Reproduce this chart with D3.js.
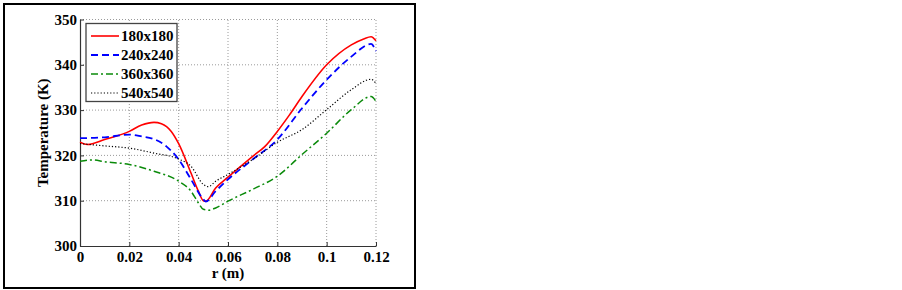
<!DOCTYPE html>
<html>
<head>
<meta charset="utf-8">
<script src="https://cdn.jsdelivr.net/npm/d3@7"></script>
<style>
  body { margin: 0; background: #fff; }
  svg { display: block; }
</style>
</head>
<body>
<div id="chart"></div>
<script>
// data
var rValues = [0, 0.003, 0.01, 0.02, 0.025, 0.03, 0.033, 0.037, 0.04, 0.045, 0.048, 0.05, 0.051, 0.055, 0.06, 0.07, 0.075, 0.08, 0.085, 0.09, 0.1, 0.11, 0.115, 0.118, 0.12];
var t180 = [322.9, 322.4, 323.5, 325.3, 326.7, 327.3, 327.0, 325.3, 322.6, 316.1, 312.1, 310.0, 309.9, 312.8, 315.2, 319.8, 322.0, 325.3, 329.0, 333.0, 340.0, 344.4, 345.7, 346.2, 345.3];

var rBlue = [0, 0.01, 0.02, 0.025, 0.03, 0.035, 0.04, 0.045, 0.05, 0.051, 0.055, 0.06, 0.07, 0.08, 0.09, 0.1, 0.11, 0.118, 0.12];
var t240 = [323.8, 324.0, 324.6, 324.2, 323.6, 322.0, 319.1, 314.7, 310.3, 309.8, 312.1, 314.7, 319.1, 323.5, 330.4, 336.7, 341.8, 344.6, 343.0];

var rGreen = [0, 0.005, 0.01, 0.02, 0.03, 0.04, 0.045, 0.048, 0.05, 0.052, 0.055, 0.06, 0.07, 0.08, 0.09, 0.1, 0.11, 0.118, 0.12];
var t360 = [318.7, 319.0, 318.6, 318.0, 316.5, 314.3, 312.1, 309.5, 308.1, 307.9, 308.4, 309.9, 312.5, 315.4, 320.2, 324.9, 330.1, 333.0, 331.9];

var rBlack = [0, 0.01, 0.02, 0.03, 0.04, 0.045, 0.05, 0.052, 0.055, 0.06, 0.07, 0.08, 0.09, 0.1, 0.11, 0.118, 0.12];
var t540 = [322.6, 322.1, 321.6, 320.5, 319.2, 317.6, 313.6, 313.1, 314.3, 315.8, 319.1, 322.9, 325.7, 330.1, 334.5, 336.8, 335.9];

var seriesNames = ["180x180", "240x240", "360x360", "540x540"];
var xTicks = [0, 0.02, 0.04, 0.06, 0.08, 0.1, 0.12];
var xTickLabels = ["0", "0.02", "0.04", "0.06", "0.08", "0.1", "0.12"];
var yTicks = [300, 310, 320, 330, 340, 350];

var fontFamily = "'Liberation Serif', 'Times New Roman', serif";

var series = [
  {name: seriesNames[0], r: rValues, t: t180, color: "#ff0000", dash: null, width: 1.6},
  {name: seriesNames[1], r: rBlue, t: t240, color: "#0000ff", dash: "7,4", width: 1.8},
  {name: seriesNames[2], r: rGreen, t: t360, color: "#0a8a0a", dash: "7,3,2,3", width: 1.5},
  {name: seriesNames[3], r: rBlack, t: t540, color: "#000000", dash: "1.2,2", width: 1.2}
];

var svg = d3.select("#chart")
  .append("svg")
    .attr("width", 902)
    .attr("height", 290);

// outer frame
svg.append("rect")
  .attr("x", 4).attr("y", 4)
  .attr("width", 411).attr("height", 284)
  .attr("fill", "none")
  .attr("stroke", "#000")
  .attr("stroke-width", 2);

var x = d3.scaleLinear().domain([0, 0.12]).range([80, 376]);
var y = d3.scaleLinear().domain([300, 350]).range([246, 19.5]);

// grid
var grid = svg.append("g");
grid.selectAll(".gx")
  .data(xTicks.slice(1))
  .enter().append("line")
    .attr("x1", function(d) { return x(d); })
    .attr("x2", function(d) { return x(d); })
    .attr("y1", y(300)).attr("y2", y(350))
    .attr("stroke", "#9a9a9a")
    .attr("stroke-width", 1)
    .attr("stroke-dasharray", "1,2");
grid.selectAll(".gy")
  .data(yTicks.slice(1))
  .enter().append("line")
    .attr("x1", x(0)).attr("x2", x(0.12))
    .attr("y1", function(d) { return y(d); })
    .attr("y2", function(d) { return y(d); })
    .attr("stroke", "#9a9a9a")
    .attr("stroke-width", 1)
    .attr("stroke-dasharray", "1,2");

// axes
var xAxis = svg.append("g")
  .attr("transform", "translate(0," + y(300) + ")")
  .call(d3.axisBottom(x).tickValues(xTicks)
    .tickFormat(function(d, i) { return xTickLabels[i]; })
    .tickSizeInner(-4).tickSizeOuter(0).tickPadding(5));
var yAxis = svg.append("g")
  .attr("transform", "translate(" + x(0) + ",0)")
  .call(d3.axisLeft(y).tickValues(yTicks)
    .tickSizeInner(-4).tickSizeOuter(0).tickPadding(3));

[xAxis, yAxis].forEach(function(a) {
  a.select(".domain").attr("stroke", "#333").attr("stroke-width", 1.2);
  a.selectAll(".tick line").attr("stroke", "#333");
  a.selectAll("text")
    .attr("font-family", fontFamily)
    .attr("font-weight", 700)
    .attr("font-size", 15)
    .attr("fill", "#000");
});

// axis labels
svg.append("text")
  .attr("x", (x(0) + x(0.12)) / 2)
  .attr("y", 278)
  .attr("text-anchor", "middle")
  .attr("font-family", fontFamily)
  .attr("font-weight", 700)
  .attr("font-size", 15)
  .text("r (m)");

svg.append("text")
  .attr("transform", "translate(48," + ((y(300) + y(350)) / 2) + ") rotate(-90)")
  .attr("text-anchor", "middle")
  .attr("font-family", fontFamily)
  .attr("font-weight", 700)
  .attr("font-size", 15)
  .text("Temperature (K)");

// curves
var line = d3.line()
  .x(function(d) { return x(d[0]); })
  .y(function(d) { return y(d[1]); })
  .curve(d3.curveMonotoneX);

svg.append("g").selectAll("path")
  .data(series)
  .enter().append("path")
    .attr("d", function(s) { return line(d3.zip(s.r, s.t)); })
    .attr("fill", "none")
    .attr("stroke", function(s) { return s.color; })
    .attr("stroke-width", function(s) { return s.width; })
    .attr("stroke-dasharray", function(s) { return s.dash; });

// legend
var legend = svg.append("g");
legend.append("rect")
  .attr("x", 86).attr("y", 23.5)
  .attr("width", 91).attr("height", 78)
  .attr("fill", "#fff")
  .attr("stroke", "#444")
  .attr("stroke-width", 1.3);

var rows = legend.selectAll(".row")
  .data(series)
  .enter().append("g")
    .attr("transform", function(s, i) { return "translate(0," + (36 + i * 19) + ")"; });
rows.append("line")
  .attr("x1", 91).attr("x2", 119)
  .attr("y1", 0).attr("y2", 0)
  .attr("stroke", function(s) { return s.color; })
  .attr("stroke-width", function(s) { return s.width; })
  .attr("stroke-dasharray", function(s) { return s.dash; });
rows.append("text")
  .attr("x", 121)
  .attr("y", 5)
  .attr("font-family", fontFamily)
  .attr("font-weight", 700)
  .attr("font-size", 15)
  .text(function(s) { return s.name; });
</script>
</body>
</html>
